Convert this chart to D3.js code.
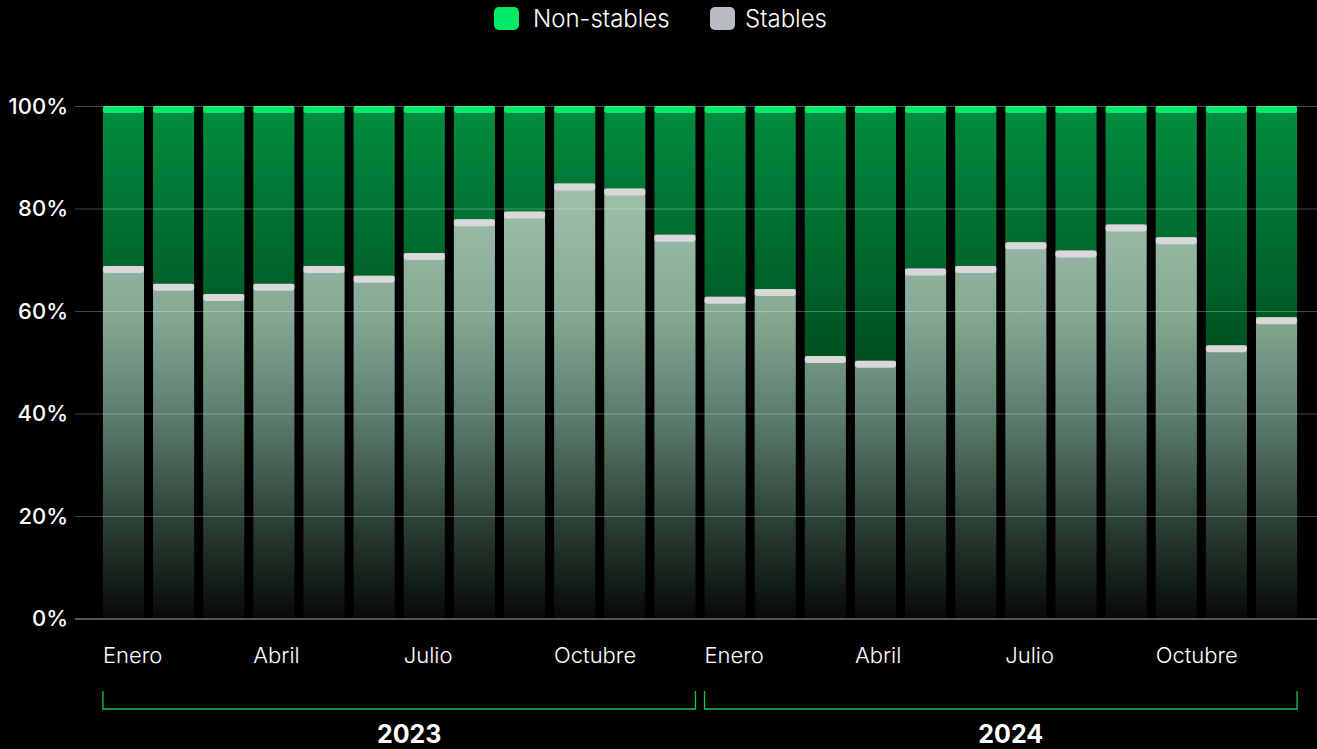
<!DOCTYPE html>
<html>
<head>
<meta charset="utf-8">
<script src="https://cdn.jsdelivr.net/npm/d3@7/dist/d3.min.js"></script>
<style>
  html, body { margin: 0; padding: 0; background: #000; }
  svg { display: block; }
  text { font-family: Inter, "Noto Sans", sans-serif; fill: #fff; }
</style>
</head>
<body>
<div id="chart"></div>
<script>
// width and height
var width = 1317;
var height = 749;

// data
var months = ["Enero", "Febrero", "Marzo", "Abril", "Mayo", "Junio",
              "Julio", "Agosto", "Septiembre", "Octubre", "Noviembre", "Diciembre"];
var years = ["2023", "2024"];
var shownMonths = ["Enero", "Abril", "Julio", "Octubre"];
var stables = [68.8, 65.3, 63.3, 65.3, 68.8, 66.9, 71.3, 77.9, 79.4, 84.9, 83.9, 74.9,
               62.8, 64.3, 51.2, 50.3, 68.3, 68.8, 73.4, 71.8, 76.9, 74.4, 53.3, 58.8];
var nonStables = [31.2, 34.7, 36.7, 34.7, 31.2, 33.1, 28.7, 22.1, 20.6, 15.1, 16.1, 25.1,
                  37.2, 35.7, 48.8, 49.7, 31.7, 31.2, 26.6, 28.2, 23.1, 25.6, 46.7, 41.2];
var yTicks = [0, 20, 40, 60, 80, 100];
var seriesNames = ["Non-stables", "Stables"];

// one row per bar
var rows = [];
years.forEach(function(yr, yi) {
  months.forEach(function(m, mi) {
    var i = yi * 12 + mi;
    rows.push({ key: yr + "-" + m, year: yr, month: m, stable: stables[i], non: nonStables[i] });
  });
});

var svg = d3.select("#chart")
            .append("svg")
            .attr("width", width)
            .attr("height", height);

var defs = svg.append("defs");

// gradients run over the whole plot height
var gNon = defs.append("linearGradient")
            .attr("id", "gradNon")
            .attr("gradientUnits", "userSpaceOnUse")
            .attr("x1", 0).attr("x2", 0)
            .attr("y1", 106).attr("y2", 400);
gNon.append("stop").attr("offset", "0%").attr("stop-color", "#008d40");
gNon.append("stop").attr("offset", "100%").attr("stop-color", "#00451c");

var gSt = defs.append("linearGradient")
            .attr("id", "gradSt")
            .attr("gradientUnits", "userSpaceOnUse")
            .attr("x1", 0).attr("x2", 0)
            .attr("y1", 180).attr("y2", 619);
gSt.append("stop").attr("offset", "0%").attr("stop-color", "#a2c1af");
gSt.append("stop").attr("offset", "30%").attr("stop-color", "#86aa96");
gSt.append("stop").attr("offset", "55%").attr("stop-color", "#5a7b6a");
gSt.append("stop").attr("offset", "76%").attr("stop-color", "#2f4538");
gSt.append("stop").attr("offset", "100%").attr("stop-color", "#060907");

// scales
var x = d3.scaleBand()
          .domain(rows.map(function(d) { return d.key; }))
          .range([98.4, 1301.6])
          .paddingInner(0.18)
          .paddingOuter(0.09);

var y = d3.scaleLinear()
          .domain([0, 100])
          .range([618.5, 106]);

var capH = 7;

// non-stable part (top of stack)
svg.selectAll(".non")
   .data(rows)
   .enter().append("rect")
   .attr("class", "non")
   .attr("x", function(d) { return x(d.key); })
   .attr("width", x.bandwidth())
   .attr("y", function(d) { return y(d.stable + d.non); })
   .attr("height", function(d) { return y(d.stable) - y(d.stable + d.non); })
   .attr("fill", "url(#gradNon)");

svg.selectAll(".nonCap")
   .data(rows)
   .enter().append("rect")
   .attr("class", "nonCap")
   .attr("x", function(d) { return x(d.key); })
   .attr("width", x.bandwidth())
   .attr("y", function(d) { return y(d.stable + d.non); })
   .attr("height", capH)
   .attr("rx", 3)
   .attr("fill", "#00ea68");

// stables part (bottom of stack)
svg.selectAll(".st")
   .data(rows)
   .enter().append("rect")
   .attr("class", "st")
   .attr("x", function(d) { return x(d.key); })
   .attr("width", x.bandwidth())
   .attr("y", function(d) { return y(d.stable); })
   .attr("height", function(d) { return y(0) - y(d.stable); })
   .attr("fill", "url(#gradSt)");

svg.selectAll(".stCap")
   .data(rows)
   .enter().append("rect")
   .attr("class", "stCap")
   .attr("x", function(d) { return x(d.key); })
   .attr("width", x.bandwidth())
   .attr("y", function(d) { return y(d.stable); })
   .attr("height", capH)
   .attr("rx", 3)
   .attr("fill", "#d9d9d9");

// y axis + gridlines on top of the bars
var yAxis = svg.append("g")
   .attr("transform", "translate(75,0)")
   .call(d3.axisLeft(y)
           .tickValues(yTicks)
           .tickFormat(function(d) { return d + "%"; })
           .tickSize(-(width - 75))
           .tickPadding(7));
yAxis.select(".domain").remove();
yAxis.selectAll(".tick line")
     .attr("stroke", "rgba(255,255,255,0.28)")
     .attr("stroke-width", 1);
yAxis.selectAll(".tick")
     .filter(function(d) { return d === 0; })
     .select("line")
     .attr("stroke", "rgba(255,255,255,0.33)")
     .attr("stroke-width", 2);
yAxis.selectAll(".tick text")
     .attr("fill", "#fff")
     .style("font-size", "22px")
     .style("font-weight", 500)
     .style("font-family", "Inter, sans-serif");

// month labels, left aligned on their bar
svg.selectAll(".mlabel")
   .data(rows.filter(function(d) { return shownMonths.indexOf(d.month) >= 0; }))
   .enter().append("text")
   .attr("class", "mlabel")
   .attr("x", function(d) { return x(d.key); })
   .attr("y", 663)
   .style("font-size", "22px")
   .style("font-weight", 300)
   .text(function(d) { return d.month; });

// year brackets
years.forEach(function(yr) {
  var x0 = x(yr + "-" + months[0]);
  var x1 = x(yr + "-" + months[11]) + x.bandwidth();
  svg.append("path")
     .attr("d", "M" + x0 + ",691V709H" + x1 + "V691")
     .attr("fill", "none")
     .attr("stroke", "#16c159")
     .attr("stroke-width", 1.3);
  svg.append("text")
     .attr("x", (x0 + x1) / 2 + 10)
     .attr("y", 743)
     .attr("text-anchor", "middle")
     .style("font-size", "25px")
     .style("font-weight", 700)
     .text(yr);
});

// legend
var legendX = [494, 710];
var legendColors = ["#00ea68", "#b8bcc2"];
var legend = svg.selectAll(".legend")
   .data(seriesNames)
   .enter().append("g")
   .attr("class", "legend")
   .attr("transform", function(d, i) { return "translate(" + legendX[i] + ",0)"; });
legend.append("rect")
   .attr("x", 0).attr("y", 7)
   .attr("width", 25).attr("height", 23)
   .attr("rx", 5)
   .attr("fill", function(d, i) { return legendColors[i]; });
legend.append("text")
   .attr("x", function(d, i) { return i === 0 ? 39 : 35; })
   .attr("y", 27)
   .style("font-size", "24px")
   .style("font-weight", 300)
   .text(function(d) { return d; });
</script>
</body>
</html>
